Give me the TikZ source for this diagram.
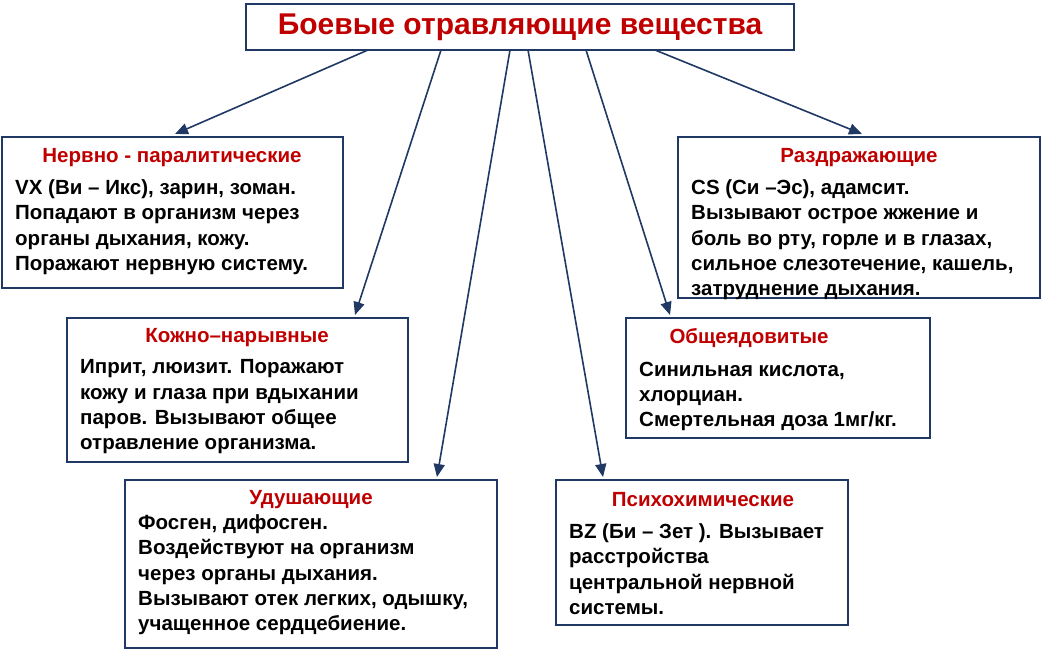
\documentclass[tikz,border=0pt]{standalone}
\usepackage{fontspec}
\setmainfont{Liberation Sans}
\usetikzlibrary{arrows.meta}
\definecolor{bd}{HTML}{1F3864}
\definecolor{rd}{HTML}{C00000}
\begin{document}
\begin{tikzpicture}[x=1pt,y=-1pt,
  box/.style={draw=bd,line width=2.6pt,fill=white},
  hd/.style={font=\fontsize{20.5}{24}\selectfont\bfseries,text=rd,anchor=center},
  bt/.style={font=\fontsize{20.5}{25.3}\selectfont\bfseries,anchor=north west,align=left,inner sep=0pt},
  ar/.style={draw=bd,line width=1.6pt,-{Triangle[length=13pt,width=11pt]}}]
\useasboundingbox (0,0) rectangle (1046,652);
\node[box,minimum width=548pt,minimum height=46pt,font=\fontsize{30}{34}\selectfont\bfseries,text=rd] (t) at (520,27) {Боевые отравляющие вещества};
\coordinate (s1) at (368,50);\coordinate (s2) at (441,50);\coordinate (s3) at (510,50);
\coordinate (s4) at (528,50);\coordinate (s5) at (586,50);\coordinate (s6) at (655,50);
\draw[box] (2,137) rectangle (343,288);
\draw[box] (67,318) rectangle (408,462);
\draw[box] (125,480) rectangle (497,648);
\draw[box] (556,480) rectangle (848,625);
\draw[box] (626,318) rectangle (930,438);
\draw[box] (678,137) rectangle (1040,298);
\coordinate (e1) at (175,134);\coordinate (e2) at (355,315);\coordinate (e3) at (437,477);
\coordinate (e4) at (603,477);\coordinate (e5) at (670,315);\coordinate (e6) at (862,134);
\draw[ar] (s1)--(e1);\draw[ar] (s2)--(e2);\draw[ar] (s3)--(e3);
\draw[ar] (s4)--(e4);\draw[ar] (s5)--(e5);\draw[ar] (s6)--(e6);
\node[hd] (h1) at (172,158) {Нервно - паралитические};
\node[bt] (b1) at (15,179.5) {VX (Ви – Икс), зарин, зоман.\\Попадают в организм через\\органы дыхания, кожу.\\Поражают нервную систему.};
\node[hd] (h2) at (237,338) {Кожно–нарывные};
\node[bt] (b2) at (80,359.5) {Иприт, люизит. Поражают\\кожу и глаза при вдыхании\\паров. Вызывают общее\\отравление организма.};
\node[hd] (h3) at (311,500) {Удушающие};
\node[bt] (b3) at (138,514.5) {Фосген, дифосген.\\Воздействуют на организм\\через органы дыхания.\\Вызывают отек легких, одышку,\\учащенное сердцебиение.};
\node[hd] (h4) at (703,500) {Психохимические};
\node[bt] (b4) at (569,523.5) {BZ (Би – Зет ). Вызывает\\расстройства\\центральной нервной\\системы.};
\node[hd] (h5) at (749,338) {Общеядовитые};
\node[bt] (b5) at (639,361.5) {Синильная кислота,\\хлорциан.\\Смертельная доза 1мг/кг.};
\node[hd] (h6) at (859,158) {Раздражающие};
\node[bt] (b6) at (691,179.5) {CS (Си –Эс), адамсит.\\Вызывают острое жжение и\\боль во рту, горле и в глазах,\\сильное слезотечение, кашель,\\затруднение дыхания.};
\end{tikzpicture}
\end{document}
